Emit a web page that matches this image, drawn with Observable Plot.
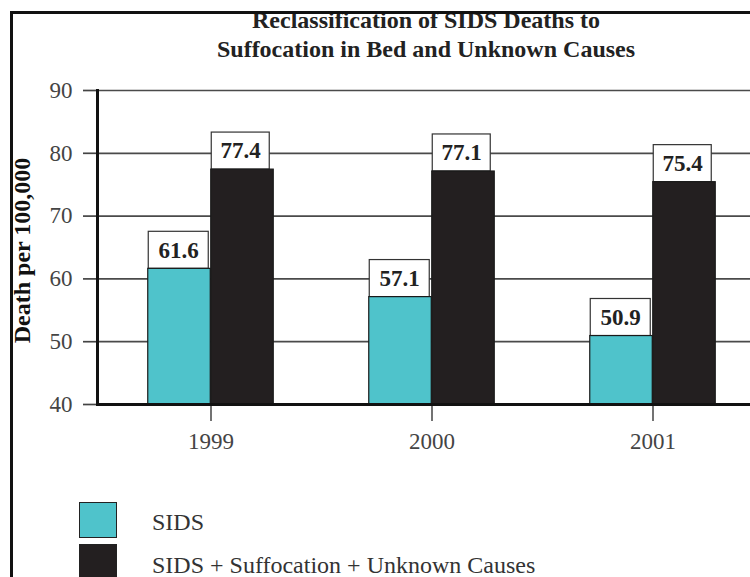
<!DOCTYPE html>
<html>
<head>
<meta charset="utf-8">
<script src="https://cdn.jsdelivr.net/npm/d3@7"></script>
<script src="https://cdn.jsdelivr.net/npm/@observablehq/plot@0.6"></script>
<style>
  body { margin: 0; background: #fff; width: 750px; height: 577px; overflow: hidden; position: relative;
         font-family: "Liberation Serif", "Times New Roman", serif; }
  #chart { position: absolute; left: 0; top: 0; }
  #title { position: absolute; left: 0; top: 6px; width: 852px; text-align: center; font-weight: bold;
           font-size: 24px; line-height: 29px; color: #222; }
  #frame { position: absolute; left: 10px; top: 11px; width: 900px; height: 700px;
           border-left: 3px solid #111; border-top: 3px solid #111; }
  .leg-sw { position: absolute; left: 79px; width: 38px; box-sizing: border-box; border: 1.5px solid #222; }
  .leg-tx { position: absolute; left: 152px; font-size: 24px; line-height: 20px; color: #333; white-space: nowrap; }
</style>
</head>
<body>
<div id="chart"></div>
<div id="title"></div>
<div id="frame"></div>
<div id="legend"></div>
<script>
const years = ["1999", "2000", "2001"];
const sidsValues = [61.6, 57.1, 50.9];
const totalValues = [77.4, 77.1, 75.4];
const seriesNames = ["SIDS", "SIDS + Suffocation + Unknown Causes"];
const seriesColors = ["#4fc3cb", "#231f20"];
const yTicks = [40, 50, 60, 70, 80, 90];
const titleLines = ["Reclassification of SIDS Deaths to", "Suffocation in Bed and Unknown Causes"];
const yTitle = "Death per 100,000";

const rows = years.flatMap((yr, i) => [
  {year: yr, series: seriesNames[0], value: sidsValues[i]},
  {year: yr, series: seriesNames[1], value: totalValues[i]}
]);

const serif = "Liberation Serif, Times New Roman, serif";
const half = 110.75;   // half band width (px)
const barW = 63;       // bar width (px)
const boxH = 5.9;      // label box height in data units

function seriesMarks(idx) {
  const data = rows.filter(d => d.series === seriesNames[idx]);
  const inL = idx === 0 ? half - barW : half;
  const inR = idx === 0 ? half : half - barW;
  return [
    Plot.barY(data, {x: "year", y1: d => d.value, y2: d => d.value + boxH,
      insetLeft: inL + 0.5, insetRight: inR + (idx === 0 ? 2 : 4),
      fill: "white", stroke: "#333", strokeWidth: 1.2}),
    Plot.barY(data, {x: "year", y: "value", fill: "series",
      insetLeft: inL, insetRight: inR, stroke: "#1a1a1a", strokeWidth: 1.2}),
    Plot.text(data, {x: "year", y: d => d.value + boxH / 2, text: d => d.value.toFixed(1),
      dx: idx === 0 ? -(barW / 2) - 1 : barW / 2 - 2,
      fontWeight: "bold", fontSize: 23, fill: "#222", fontFamily: serif})
  ];
}

const chart = Plot.plot({
  width: 750,
  height: 470,
  marginTop: 90,
  marginBottom: 66,
  marginLeft: 97,
  marginRight: 0,
  style: {fontFamily: serif, background: "transparent"},
  x: {type: "band", domain: years, range: [99.25, 763.75], padding: 0, label: null},
  y: {domain: [40, 90], clamp: true, label: null},
  color: {domain: seriesNames, range: seriesColors},
  marks: [
    Plot.ruleY(yTicks.slice(1), {stroke: "#4a4a4a", strokeWidth: 1.7}),
    ...seriesMarks(0),
    ...seriesMarks(1),
    Plot.axisY({ticks: yTicks, tickSize: 14, tickPadding: 11, fontSize: 23, color: "#444",
      strokeWidth: 1.7, label: null}),
    Plot.axisX({tickSize: 17, tickPadding: 11, fontSize: 23, color: "#444", strokeWidth: 1.5, label: null}),
    Plot.text([yTitle], {frameAnchor: "left", dx: -75, dy: 3, rotate: -90, textAnchor: "middle",
      fontWeight: "bold", fontSize: 24, fill: "#111", fontFamily: serif}),
    Plot.ruleY([40], {stroke: "#111", strokeWidth: 3}),
    Plot.frame({anchor: "left", stroke: "#111", strokeWidth: 3})
  ]
});
document.getElementById("chart").appendChild(chart);

document.getElementById("title").innerHTML = titleLines.join("<br>");

const legend = document.getElementById("legend");
const swTops = [502, 544], swH = [36, 40], txTops = [512, 555];
seriesNames.forEach((name, i) => {
  const sw = document.createElement("div");
  sw.className = "leg-sw";
  sw.style.top = swTops[i] + "px";
  sw.style.height = swH[i] + "px";
  sw.style.background = seriesColors[i];
  legend.appendChild(sw);
  const tx = document.createElement("div");
  tx.className = "leg-tx";
  tx.style.top = txTops[i] + "px";
  tx.textContent = name;
  legend.appendChild(tx);
});
</script>
</body>
</html>
